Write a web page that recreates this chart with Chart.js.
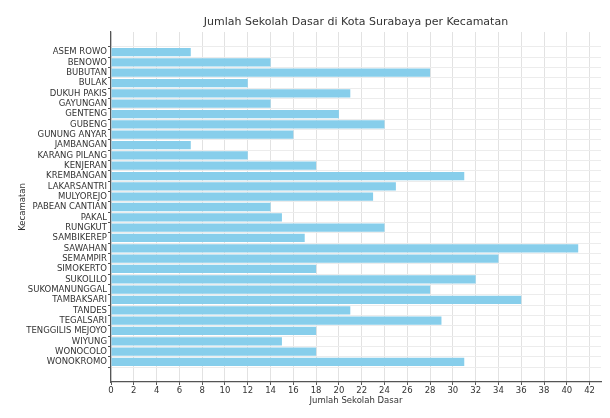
<!DOCTYPE html>
<html lang="id">
<head>
    <meta charset="UTF-8">
    <title>Jumlah Sekolah Dasar di Kota Surabaya</title>
    <script src="https://cdn.jsdelivr.net/npm/chart.js"></script>
    <style>
        html, body { margin: 0; padding: 0; background: #fff; }
        #wrap { width: 610px; height: 418px; position: relative; }
    </style>
</head>
<body>
    <div id="wrap"><canvas id="sdChart"></canvas></div>
    <script>
        // kecamatan (urutan dari atas ke bawah)
        const kecamatan = [
            'ASEM ROWO', 'BENOWO', 'BUBUTAN', 'BULAK', 'DUKUH PAKIS', 'GAYUNGAN',
            'GENTENG', 'GUBENG', 'GUNUNG ANYAR', 'JAMBANGAN', 'KARANG PILANG',
            'KENJERAN', 'KREMBANGAN', 'LAKARSANTRI', 'MULYOREJO', 'PABEAN CANTIAN',
            'PAKAL', 'RUNGKUT', 'SAMBIKEREP', 'SAWAHAN', 'SEMAMPIR', 'SIMOKERTO',
            'SUKOLILO', 'SUKOMANUNGGAL', 'TAMBAKSARI', 'TANDES', 'TEGALSARI',
            'TENGGILIS MEJOYO', 'WIYUNG', 'WONOCOLO', 'WONOKROMO'
        ];
        // jumlah sekolah dasar per kecamatan
        const jumlahSD = [
            7, 14, 28, 12, 21, 14,
            20, 24, 16, 7, 12,
            18, 31, 25, 23, 14,
            15, 24, 17, 41, 34, 18,
            32, 28, 36, 21, 29,
            18, 15, 18, 31
        ];
        const xTicks = [0, 2, 4, 6, 8, 10, 12, 14, 16, 18, 20, 22, 24, 26, 28, 30, 32, 34, 36, 38, 40, 42];
        const judul = 'Jumlah Sekolah Dasar di Kota Surabaya per Kecamatan';

        const points = jumlahSD.map((v, i) => ({ x: v, y: i }));
        const font = 'DejaVu Sans';

        // judul di tengah area plot (seperti matplotlib), bukan di tengah kanvas
        const plotTitle = {
            id: 'plotTitle',
            afterDraw(chart) {
                const { ctx, chartArea } = chart;
                ctx.save();
                ctx.font = '11px "DejaVu Sans"';
                ctx.fillStyle = '#333';
                ctx.textAlign = 'center';
                ctx.textBaseline = 'middle';
                ctx.fillText(judul, (chartArea.left + chartArea.right) / 2, 22);
                ctx.restore();
            }
        };

        const ctx = document.getElementById('sdChart').getContext('2d');
        new Chart(ctx, {
            type: 'bar',
            data: {
                datasets: [{
                    label: 'Jumlah Sekolah Dasar',
                    data: points,
                    backgroundColor: '#87ceeb',
                    borderWidth: 0,
                    barPercentage: 0.8,
                    categoryPercentage: 1.0
                }]
            },
            plugins: [plotTitle],
            options: {
                indexAxis: 'y',
                responsive: true,
                maintainAspectRatio: false,
                animation: false,
                layout: { padding: { left: 0, right: 9, top: 32, bottom: 0 } },
                plugins: {
                    legend: { display: false },
                    tooltip: { enabled: false },
                    title: { display: false }
                },
                scales: {
                    x: {
                        type: 'linear',
                        min: 0,
                        max: 43,
                        afterBuildTicks: (axis) => { axis.ticks = xTicks.map(v => ({ value: v })); },
                        afterFit: (axis) => { axis.height = 36; },
                        grid: { color: '#e2e2e2', lineWidth: 1, tickLength: 3, tickColor: '#555' },
                        border: { display: true, color: '#555', width: 1.2 },
                        ticks: { color: '#333', padding: 1, font: { family: font, size: 8.5 } },
                        title: {
                            display: true,
                            text: 'Jumlah Sekolah Dasar',
                            color: '#333',
                            font: { family: font, size: 8.5 },
                            padding: { top: 0, bottom: 12 }
                        }
                    },
                    y: {
                        type: 'linear',
                        reverse: true,
                        offset: false,
                        min: -1.94,
                        max: 31.94,
                        afterBuildTicks: (axis) => { axis.ticks = kecamatan.map((k, i) => ({ value: i })); },
                        afterFit: (axis) => { axis.width = 111; },
                        grid: { color: '#ececec', lineWidth: 1, tickLength: 3, tickColor: '#555' },
                        border: { display: true, color: '#555', width: 1.2 },
                        ticks: {
                            color: '#333',
                            padding: 1,
                            autoSkip: false,
                            font: { family: font, size: 8.5 },
                            callback: (v) => kecamatan[v] ?? ''
                        },
                        title: {
                            display: true,
                            text: 'Kecamatan',
                            color: '#333',
                            font: { family: font, size: 8.5 },
                            padding: { top: 18, bottom: 0 }
                        }
                    }
                }
            }
        });
    </script>
</body>
</html>
